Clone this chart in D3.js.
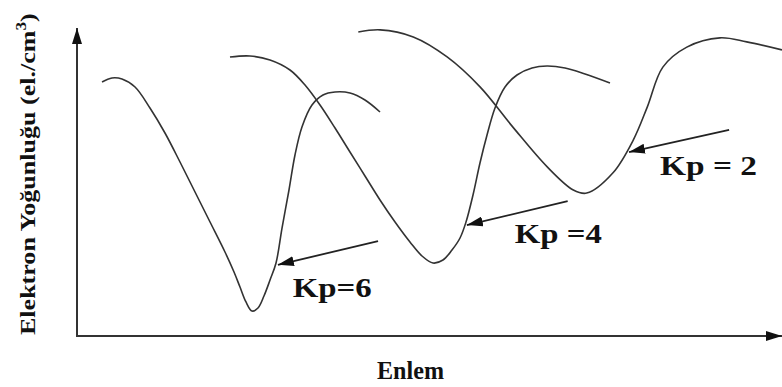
<!DOCTYPE html>
<html>
<head>
<meta charset="utf-8">
<script src="https://cdn.jsdelivr.net/npm/d3@7"></script>
<style>
  body { margin: 0; background: #fff; }
  svg { display: block; }
</style>
</head>
<body>
<svg id="chart"></svg>
<script>
var width = 782, height = 387
var serif = '"Liberation Serif", "Times New Roman", Times, serif'

// curves, latitude (0-100) vs density (0-100), arbitrary units
var kp6 = [[3.55,82.47],[4.96,83.77],[6.38,83.44],[8.23,80.84],[10.35,74.03],[12.48,65.91],
           [14.61,56.49],[16.74,46.75],[18.87,37.01],[20.99,27.27],[22.27,20.78],[23.12,15.91],
           [23.97,11.04],[24.82,8.12],[25.67,9.09],[26.52,12.99],[27.38,18.18],[28.23,23.7],
           [29.08,35.06],[30.07,47.4],[30.92,58.77],[31.91,67.86],[33.33,75],[34.89,78.25],
           [36.6,79.22],[38.72,78.9],[40.85,76.62],[42.98,72.73]]
var kp4 = [[21.7,90.58],[24.54,90.91],[27.38,89.61],[30.21,86.36],[32.34,81.49],[34.47,75],
           [36.6,67.53],[38.72,59.74],[40.85,51.95],[42.98,44.16],[45.11,37.01],[47.23,30.52],
           [48.94,25.97],[50.5,23.7],[51.91,24.68],[53.19,27.92],[54.33,31.82],[55.18,37.01],
           [56.17,45.78],[57.16,56.17],[58.16,65.26],[59.29,74.03],[60.71,80.84],[62.41,84.74],
           [64.54,87.01],[66.67,87.66],[69.22,87.01],[72.06,85.06],[75.6,82.14]]
var kp2 = [[39.9,98.7],[43,99.4],[47.7,97.1],[52.5,90.6],[57.2,80.8],[61.8,67.9],[66.7,54.9],
           [70.4,47.4],[72.3,46.4],[76,52.9],[78.9,63.6],[80.9,74.4],[83.1,87.3],[86.5,93.8],
           [91.2,96.8],[95,95.5],[100,92.9]]
var curves = [kp6, kp4, kp2]

var labels = ['Kp=6', 'Kp =4', 'Kp = 2']
var labelPos = [[30.6,12.7],[62.1,30.2],[82.7,52.3]]
var labelLen = [79, 87, 97]
var arrowFrom = [[42.7,30.8],[69.6,43.8],[92.5,66.9]]
var arrowTo = [[28.5,23.1],[55.3,36],[78.3,59.7]]

var x = d3.scaleLinear().domain([0,100]).range([77, 782])
var y = d3.scaleLinear().domain([0,100]).range([336, 28])

var svg = d3.select('#chart').attr('width', width).attr('height', height)

var defs = svg.append('defs')
defs.append('marker').attr('id','head')
  .attr('viewBox','0 0 16 10').attr('refX',16).attr('refY',5)
  .attr('markerWidth',16).attr('markerHeight',10)
  .attr('markerUnits','userSpaceOnUse').attr('orient','auto')
  .append('path').attr('d','M0,0L16,5L0,10Z').attr('fill','#111')

// axes
svg.append('line')
  .attr('x1', x(0)).attr('y1', y(0)).attr('x2', x(0)).attr('y2', y(100))
  .attr('stroke','#333').attr('stroke-width',2).attr('marker-end','url(#head)')
svg.append('line')
  .attr('x1', x(0)-1).attr('y1', y(0)).attr('x2', x(100)).attr('y2', y(0))
  .attr('stroke','#333').attr('stroke-width',2).attr('marker-end','url(#head)')

var line = d3.line()
  .x(function(d){return x(d[0])})
  .y(function(d){return y(d[1])})
  .curve(d3.curveCatmullRom.alpha(0.5))

svg.selectAll('.curve').data(curves)
  .enter().append('path')
  .classed('curve', true)
  .attr('d', line)
  .attr('fill','none')
  .attr('stroke','#333')
  .attr('stroke-width',1.6)

// annotation arrows
svg.selectAll('.pointer').data(arrowFrom)
  .enter().append('line')
  .classed('pointer', true)
  .attr('x1', function(d){return x(d[0])})
  .attr('y1', function(d){return y(d[1])})
  .attr('x2', function(d,i){return x(arrowTo[i][0])})
  .attr('y2', function(d,i){return y(arrowTo[i][1])})
  .attr('stroke','#222').attr('stroke-width',1.8)
  .attr('marker-end','url(#head)')

svg.selectAll('.kp').data(labels)
  .enter().append('text')
  .classed('kp', true)
  .attr('x', function(d,i){return x(labelPos[i][0])})
  .attr('y', function(d,i){return y(labelPos[i][1])})
  .attr('font-family', serif).attr('font-weight','bold').attr('fill','#111')
  .attr('font-size', 28)
  .attr('textLength', function(d,i){return labelLen[i]})
  .attr('lengthAdjust','spacingAndGlyphs')
  .text(function(d){return d})

// axis titles
svg.append('text')
  .attr('x', 377).attr('y', 379)
  .attr('font-family', serif).attr('font-weight','bold').attr('fill','#111')
  .attr('font-size', 25)
  .attr('textLength', 67).attr('lengthAdjust','spacingAndGlyphs')
  .text('Enlem')

var ytitle = svg.append('text')
  .attr('font-family', serif).attr('font-weight','bold').attr('fill','#111')
  .attr('font-size', 21)
ytitle.append('tspan').text('Elektron Yoğunluğu (el./cm')
ytitle.append('tspan').attr('font-size', 14).attr('dy', -9).text('3')
ytitle.append('tspan').attr('dy', 9).text(')')

// fit the rotated title between the axis ends
var len = ytitle.node().getComputedTextLength()
var target = 322
ytitle.attr('transform', 'translate(35,335) rotate(-90) scale(' + (target/len) + ',1)')
</script>
</body>
</html>
